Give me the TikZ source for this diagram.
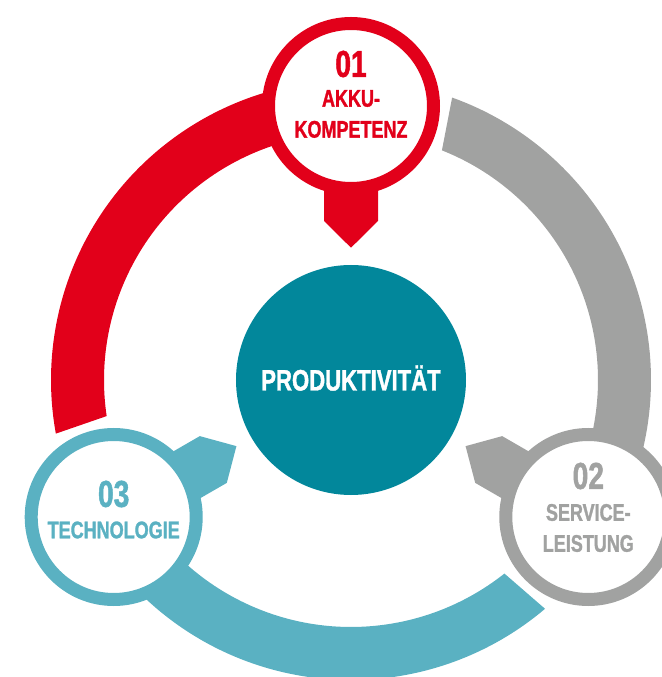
\documentclass[tikz,border=0pt]{standalone}
\usepackage{fontspec}
\setmainfont{Liberation Sans}[FakeStretch=0.75,BoldFeatures={FakeBold=1.3}]
\usepackage{tikz}
\usetikzlibrary{backgrounds}
\definecolor{akkured}{HTML}{E2001A}
\definecolor{servgray}{HTML}{A1A2A1}
\definecolor{techblue}{HTML}{5AB1C2}
\definecolor{prodteal}{HTML}{02879B}
\newcommand{\rn}{274}

\begin{document}
\begin{tikzpicture}[x=1pt,y=1pt,
  stage/.style={circle,draw=#1,line width=13pt,fill=white,minimum size=165pt,inner sep=0pt},
  num/.style={text=#1,font=\fontsize{37.5}{37}\selectfont\bfseries,inner sep=0pt},
  lbl/.style={text=#1,font=\fontsize{24}{31}\selectfont\bfseries,align=center,inner sep=0pt}]
\useasboundingbox (-351,-297) rectangle (310,380);
\coordinate (o) at (0,0);
\node[stage=akkured] (akku) at (90:\rn) {};
\node[stage=servgray] (service) at (-30:\rn) {};
\node[stage=techblue] (tech) at (210:\rn) {};
\begin{scope}[on background layer]
\foreach \a/\c in {90/akkured,-30/servgray,210/techblue}{
\fill[\c] (\a:300) arc[start angle=\a, end angle={\a+100.3}, radius=300] -- ({\a+98.4}:247) arc[start angle={\a+98.4}, end angle=\a, radius=247] -- cycle;
}
\foreach \n/\a/\c in {akku/90/akkured,service/-30/servgray,tech/210/techblue}{
\fill[\c,shift={(\n.center)},rotate=\a+180] (0,-27) -- (115,-27) -- (141.7,0) -- (115,27) -- (0,27) -- cycle;
}
\end{scope}
\node[circle,fill=prodteal,minimum size=230pt,inner sep=0pt,text=white,text height=21pt,text depth=0pt,font=\fontsize{29.5}{30}\selectfont\bfseries] (prod) at (o) {PRODUKTIVITÄT};
\node[num=akkured] (akkunum) at ([yshift=42]akku.center) {01};
\node[lbl=akkured] (akkutxt) at ([yshift=-8]akku.center) {AKKU-\\KOMPETENZ};
\node[num=servgray] (servicenum) at ([yshift=41]service.center) {02};
\node[lbl=servgray] (servicetxt) at ([yshift=-11]service.center) {SERVICE-\\LEISTUNG};
\node[num=techblue] (technum) at ([yshift=23]tech.center) {03};
\node[lbl=techblue] (techtxt) at ([yshift=-13]tech.center) {TECHNOLOGIE};
\end{tikzpicture}
\end{document}
